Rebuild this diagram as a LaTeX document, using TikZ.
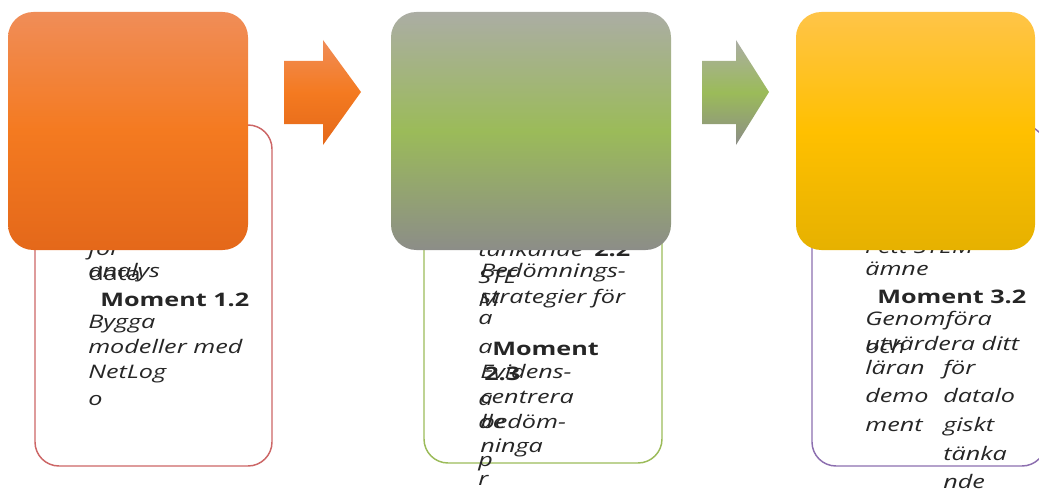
\documentclass[tikz,border=0pt]{standalone}
\usepackage{fontspec}
\newfontfamily\notefont[FakeStretch=1.35]{Open Sans}
\usetikzlibrary{positioning}
\definecolor{inkgray}{RGB}{38,38,38}
\definecolor{redline}{RGB}{204,102,102}
\definecolor{greenline}{RGB}{155,187,89}
\definecolor{purpleline}{RGB}{140,110,175}
\definecolor{orangetop}{RGB}{240,141,88}
\definecolor{orangemid}{RGB}{244,122,32}
\definecolor{orangebot}{RGB}{228,104,26}
\definecolor{greentop}{RGB}{171,173,164}
\definecolor{greenmid}{RGB}{155,187,89}
\definecolor{greenbot}{RGB}{140,141,136}
\definecolor{yellowtop}{RGB}{255,196,72}
\definecolor{yellowmid}{RGB}{255,192,0}
\definecolor{yellowbot}{RGB}{230,177,0}

\tikzset{
  notebox/.style={rounded corners=18pt, line width=1.1pt},
  stagebox/.style={rounded corners=19pt},
  notetext/.style={anchor=base west, inner sep=0pt, text=inkgray,
    font=\notefont\fontsize{14}{18.75}\selectfont\itshape},
  noteplain/.style={notetext, font=\notefont\fontsize{14}{18.75}\selectfont},
  notehead/.style={anchor=base west, inner sep=0pt, text=inkgray,
    font=\notefont\fontsize{14}{18.75}\selectfont\bfseries},
}

\begin{document}
\begin{tikzpicture}[x=0.75pt, y=-0.75pt]
\useasboundingbox (0,0) rectangle (1039,492);
\clip (0,0) rectangle (1039,492);

% outlined boxes behind the stages
\draw[notebox, draw=redline] (35,125) rectangle (272,466);
\draw[notebox, draw=greenline] (424,125) rectangle (662,463);
\draw[notebox, draw=purpleline] (812,125) rectangle (1046,466);

% texts of stage 1
\node[notetext] (forA) at (88,255) {för};
\node[notetext] (analysA) at (88,277) {analys};
\node[noteplain] (dataA) at (88,280) {data};
\node[notehead] (momentA) at (100,306) {Moment 1.2};
\node[notetext] (byggaA) at (88,328) {Bygga};
\node[notetext] (modellerA) at (88,353) {modeller med};
\node[notetext] (netlogA) at (88,378) {NetLog};
\node[notetext] (oA) at (88,405) {o};

% texts of stage 2
\node[notetext] (tankB) at (478,256) {tänkande};
\node[notehead] (momentBa) at (594,256) {2.2};
\node[notetext] (bedomB) at (480,277) {Bedömnings-};
\node[notetext] (stratB) at (480,303) {strategier för};
\node[notetext] (steB) at (478,283) {STE};
\node[notetext] (mB) at (478,306) {M};
\node[notetext] (aB) at (478,324) {a};
\node[notetext] (aaB) at (478,353) {a};
\node[notehead] (momentBb) at (492,355) {Moment};
\node[notehead] (nrB) at (484,380) {2.3};
\node[notetext] (evidB) at (480,378) {Evidens-};
\node[notetext] (centrB) at (480,403) {centrera};
\node[notetext] (bedB) at (480,428) {bedöm-};
\node[notetext] (ningaB) at (480,452) {ninga};
\node[notetext] (aaaB) at (478,405) {a};
\node[notetext] (deB) at (478,428) {de};
\node[notetext] (pB) at (478,466) {p};
\node[notetext] (rB) at (478,485) {r};

% texts of stage 3
\node[notetext] (stemC) at (865,253) {i ett STEM-};
\node[notetext] (amneC) at (865,275) {ämne};
\node[notehead] (momentC) at (877,303) {Moment 3.2};
\node[notetext] (genomC) at (865,325) {Genomföra};
\node[notetext] (utvC) at (865,350) {utvärdera ditt};
\node[notetext] (ochC) at (865,353) {och};
\node[notetext] (laranC) at (865,374) {läran};
\node[notetext] (demoC) at (865,402) {demo};
\node[notetext] (mentC) at (865,431) {ment};
\node[notetext] (forC) at (943,374) {för};
\node[notetext] (dataloC) at (943,402) {datalo};
\node[notetext] (gisktC) at (943,431) {giskt};
\node[notetext] (tankaC) at (943,460) {tänka};
\node[notetext] (ndeC) at (943,488) {nde};

% gradient stages
\shade[stagebox, top color=orangetop, bottom color=orangebot, middle color=orangemid]
  (8,12) rectangle (248,250);
\shade[stagebox, top color=greentop, bottom color=greenbot, middle color=greenmid]
  (391,12) rectangle (671,250);
\shade[stagebox, top color=yellowtop, bottom color=yellowbot, middle color=yellowmid]
  (796,12) rectangle (1035,250);

% block arrows between stages
\shade[top color=orangetop, bottom color=orangebot, middle color=orangemid]
  (284,61) -- (323,61) -- (323,40) -- (361,92) -- (323,145) -- (323,124) -- (284,124) -- cycle;
\shade[top color=greentop, bottom color=greenbot, middle color=greenmid]
  (702,61) -- (736,61) -- (736,40) -- (769,92) -- (736,145) -- (736,124) -- (702,124) -- cycle;
\end{tikzpicture}
\end{document}
